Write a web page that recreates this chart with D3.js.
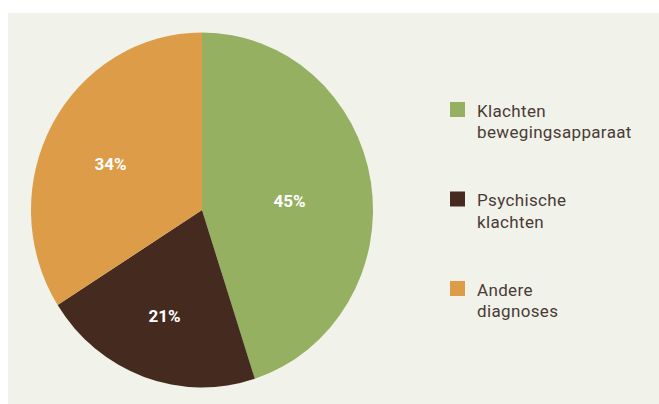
<!DOCTYPE html>
<html>
<head>
<meta charset="utf-8">
<script src="https://cdn.jsdelivr.net/npm/d3@7"></script>
<style>
  html, body { margin: 0; padding: 0; background: #ffffff; }
  svg { display: block; }
</style>
</head>
<body>
<svg id="chart" width="659" height="404"></svg>
<script>
const categories = ["Klachten bewegingsapparaat", "Psychische klachten", "Andere diagnoses"];
const legendLines = [["Klachten", "bewegingsapparaat"], ["Psychische", "klachten"], ["Andere", "diagnoses"]];
const values = [45, 21, 34];
const colors = ["#94b060", "#452b1f", "#dc9c48"];

const svg = d3.select("#chart");
svg.append("rect").attr("x", 8).attr("y", 13).attr("width", 651).attr("height", 391).attr("fill", "#f1f2ea");

const cx = 202, cy = 210, r = 171, yScale = 1.038;
// label placement tweaks (layout only)
const labelRadiusFactor = [0.515, 0.639, 0.594];
const labelAngleShiftDeg = [3.35, 0.27, -2.9];
const pie = d3.pie().sort(null).value(d => d)(values);
const arc = d3.arc().innerRadius(0).outerRadius(r);

const g = svg.append("g").attr("transform", `translate(${cx},${cy})`);
g.append("g").attr("transform", `scale(1,${yScale})`)
  .selectAll("path").data(pie).join("path")
  .attr("d", arc).attr("fill", (d, i) => colors[i]);

g.selectAll("text.pct").data(pie).join("text")
  .attr("class", "pct")
  .each(function(d, i) {
    const lr = r * labelRadiusFactor[i];
    const a = (d.startAngle + d.endAngle) / 2 + labelAngleShiftDeg[i] * Math.PI / 180;
    d3.select(this).attr("x", lr * Math.sin(a)).attr("y", -lr * Math.cos(a) * yScale);
  })
  .attr("dy", "0.35em")
  .attr("text-anchor", "middle")
  .attr("fill", "#ffffff")
  .attr("font-family", "Roboto, sans-serif")
  .attr("font-weight", 700)
  .attr("font-size", 17)
  .text((d, i) => values[i] + "%");

const legend = svg.append("g");
const itemY = d3.scalePoint().domain(categories).range([102, 281]);
categories.forEach((c, i) => {
  const y = itemY(c);
  legend.append("rect").attr("x", 450).attr("y", y).attr("width", 15).attr("height", 15).attr("fill", colors[i]);
  const t = legend.append("text").attr("x", 477).attr("y", y + 14.5)
    .attr("fill", "#4a3b35").attr("font-family", "Roboto, sans-serif").attr("font-size", 17)
    .attr("letter-spacing", 0.35);
  legendLines[i].forEach((ln, j) => {
    t.append("tspan").attr("x", 477).attr("dy", j === 0 ? 0 : 21.7).text(ln);
  });
});
</script>
</body>
</html>
